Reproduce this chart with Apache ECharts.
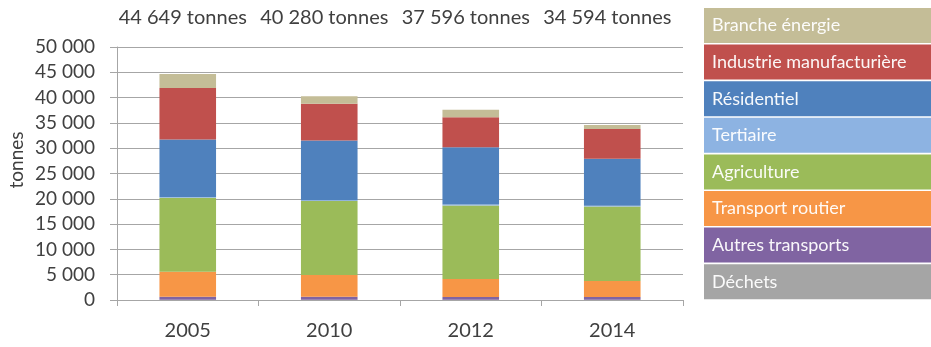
<!DOCTYPE html>
<html>
<head>
<meta charset="utf-8">
<script src="https://cdn.jsdelivr.net/npm/echarts@6/dist/echarts.min.js"></script>
<style>
html,body{margin:0;padding:0;background:#fff;}
#chart{width:931px;height:347px;}
</style>
</head>
<body>
<div id="chart"></div>
<script>
var categories = ['2005', '2010', '2012', '2014'];
var totals = [44649, 40280, 37596, 34594];
var dechets = [50, 50, 50, 50];
var autresTransports = [600, 600, 550, 550];
var transportRoutier = [4950, 4270, 3530, 3140];
var agriculture = [14600, 14630, 14570, 14760];
var tertiaire = [150, 150, 150, 150];
var residentiel = [11350, 11800, 11350, 9250];
var industrie = [10200, 7300, 5900, 5900];
var brancheEnergie = [2749, 1480, 1496, 794];
var yTicks = [0, 5000, 10000, 15000, 20000, 25000, 30000, 35000, 40000, 45000, 50000];

var seriesDefs = [
  {name: 'Déchets', data: dechets, color: '#a5a5a5'},
  {name: 'Autres transports', data: autresTransports, color: '#8064a2'},
  {name: 'Transport routier', data: transportRoutier, color: '#f79646'},
  {name: 'Agriculture', data: agriculture, color: '#9bbb59'},
  {name: 'Tertiaire', data: tertiaire, color: '#8db3e2'},
  {name: 'Résidentiel', data: residentiel, color: '#4f81bd'},
  {name: 'Industrie manufacturière', data: industrie, color: '#c0504d'},
  {name: 'Branche énergie', data: brancheEnergie, color: '#c4bd97'}
];

function fmt(v) {
  return String(v).replace(/\B(?=(\d{3})+(?!\d))/g, ' ');
}

var FONT = 'Lato';
var chart = echarts.init(document.getElementById('chart'), null, {renderer: 'canvas'});

var option = {
  animation: false,
  textStyle: {fontFamily: FONT},
  grid: {left: 117, right: 248, top: 47, bottom: 47, containLabel: false},
  xAxis: {
    type: 'category',
    data: categories,
    axisLine: {show: true, lineStyle: {color: '#a6a6a6', width: 1}},
    axisTick: {show: true, length: 6, alignWithLabel: false, lineStyle: {color: '#a6a6a6'}},
    axisLabel: {color: '#404040', fontSize: 20, fontFamily: FONT, margin: 21}
  },
  yAxis: {
    type: 'value',
    min: 0, max: 50000, interval: 5000,
    axisLine: {show: true, lineStyle: {color: '#a6a6a6', width: 1}},
    axisTick: {show: true, length: 7, lineStyle: {color: '#a6a6a6'}},
    splitLine: {show: true, lineStyle: {color: '#a6a6a6', width: 1}},
    axisLabel: {color: '#404040', fontSize: 19, fontFamily: FONT, margin: 22,
      formatter: function (v) { return fmt(v); }}
  },
  series: seriesDefs.map(function (s) {
    return {
      name: s.name, type: 'bar', stack: 'total', data: s.data,
      barCategoryGap: '60%',
      itemStyle: {color: s.color},
      emphasis: {disabled: true}
    };
  })
};
chart.setOption(option);

var graphics = [];
// totals above the chart
totals.forEach(function (t, i) {
  var x = chart.convertToPixel({xAxisIndex: 0}, categories[i]);
  graphics.push({
    type: 'text', x: x - 5, y: 18,
    style: {text: fmt(t) + ' tonnes', font: '20px ' + FONT, fill: '#404040',
      align: 'center', verticalAlign: 'middle'}
  });
});
// y axis name
graphics.push({
  type: 'text', x: 17, y: 160, rotation: Math.PI / 2,
  style: {text: 'tonnes', font: '19px ' + FONT, fill: '#404040', align: 'center', verticalAlign: 'middle'}
});
// legend boxes (top to bottom in reverse stacking order)
var legendItems = seriesDefs.slice().reverse();
legendItems.forEach(function (s, i) {
  var y0 = 8 + i * 36.6;
  graphics.push({
    type: 'rect', shape: {x: 704, y: y0, width: 227, height: 35},
    style: {fill: s.color}
  });
  graphics.push({
    type: 'text', x: 712, y: y0 + 17.5,
    style: {text: s.name, font: '18px ' + FONT, fill: '#ffffff', align: 'left', verticalAlign: 'middle', opacity: 0.95}
  });
});
chart.setOption({graphic: graphics});
</script>
</body>
</html>
